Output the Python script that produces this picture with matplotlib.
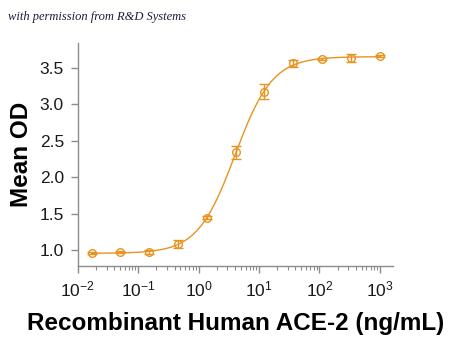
import matplotlib
matplotlib.use("Agg")
import matplotlib.pyplot as plt
import numpy as np

plt.rcParams['font.family'] = ['Liberation Sans', 'DejaVu Sans']

# 3-fold serial dilution of ACE-2, ng/mL
conc = [0.0169, 0.0508, 0.152, 0.457, 1.37, 4.12, 12.3, 37.0, 111.0, 333.0, 1000.0]
mean_od = [0.955, 0.970, 0.970, 1.08, 1.44, 2.34, 3.17, 3.56, 3.62, 3.63, 3.66]
sd_od = [0.015, 0.015, 0.03, 0.055, 0.02, 0.09, 0.10, 0.045, 0.02, 0.055, 0.01]

orange = '#E8931F'
gray = '#8c8c8c'

x = np.array(conc)
y = np.array(mean_od)
lx = np.log10(x)


def four_pl(p, t):
    bottom, top, logec50, hill = p
    return bottom + (top - bottom) / (1 + 10 ** ((logec50 - t) * hill))


# simple Gauss-Newton fit of a 4-parameter logistic
p = np.array([y.min(), y.max(), lx[np.argmin(abs(y - (y.min() + y.max()) / 2))], 1.0])
for _ in range(100):
    r = y - four_pl(p, lx)
    J = np.zeros((len(lx), 4))
    for k in range(4):
        dp = np.zeros(4)
        dp[k] = 1e-6
        J[:, k] = (four_pl(p + dp, lx) - four_pl(p, lx)) / 1e-6
    step = np.linalg.lstsq(J, r, rcond=None)[0]
    p = p + 0.5 * step

t = np.linspace(lx[0], lx[-1], 300)

fig = plt.figure(figsize=(4.5, 3.38), dpi=100)
ax = fig.add_axes([0.173, 0.213, 0.700, 0.660])

ax.plot(10 ** t, four_pl(p, t), color=orange, lw=1.0)
ax.errorbar(x, y, yerr=sd_od, fmt='o', mfc='none', mec=orange, ecolor=orange,
            ms=5.5, mew=1.0, elinewidth=1.0, capsize=3.5, capthick=1.0)

ax.set_xscale('log')
ax.set_xlim(0.01, 10 ** 3.215)
ax.set_ylim(0.78, 3.84)
ax.set_yticks([1.0, 1.5, 2.0, 2.5, 3.0, 3.5])
ax.set_yticklabels(['1.0', '1.5', '2.0', '2.5', '3.0', '3.5'])
ax.set_xticks([1e-2, 1e-1, 1e0, 1e1, 1e2, 1e3])
ax.set_xticklabels([r'$\mathdefault{10^{-2}}$', r'$\mathdefault{10^{-1}}$',
                    r'$\mathdefault{10^{0}}$', r'$\mathdefault{10^{1}}$',
                    r'$\mathdefault{10^{2}}$', r'$\mathdefault{10^{3}}$'])

for side in ['top', 'right']:
    ax.spines[side].set_visible(False)
for side in ['left', 'bottom']:
    ax.spines[side].set_color(gray)
    ax.spines[side].set_linewidth(1.0)

ax.tick_params(axis='both', which='major', color=gray, length=5, width=1.0,
               labelsize=12.5, labelcolor='#1a1a1a', pad=5)
ax.tick_params(axis='x', which='minor', color=gray, length=3, width=0.8)

ax.set_xlabel('Recombinant Human ACE-2 (ng/mL)', fontsize=17.5, fontweight='bold', labelpad=9)
ax.set_ylabel('Mean OD', fontsize=17.5, fontweight='bold', labelpad=5)

fig.text(0.018, 0.95, 'with permission from R&D Systems', fontsize=9, style='italic',
         family='Liberation Serif', color='#1c1c3a', va='center')

fig.savefig('out.png', dpi=100)
